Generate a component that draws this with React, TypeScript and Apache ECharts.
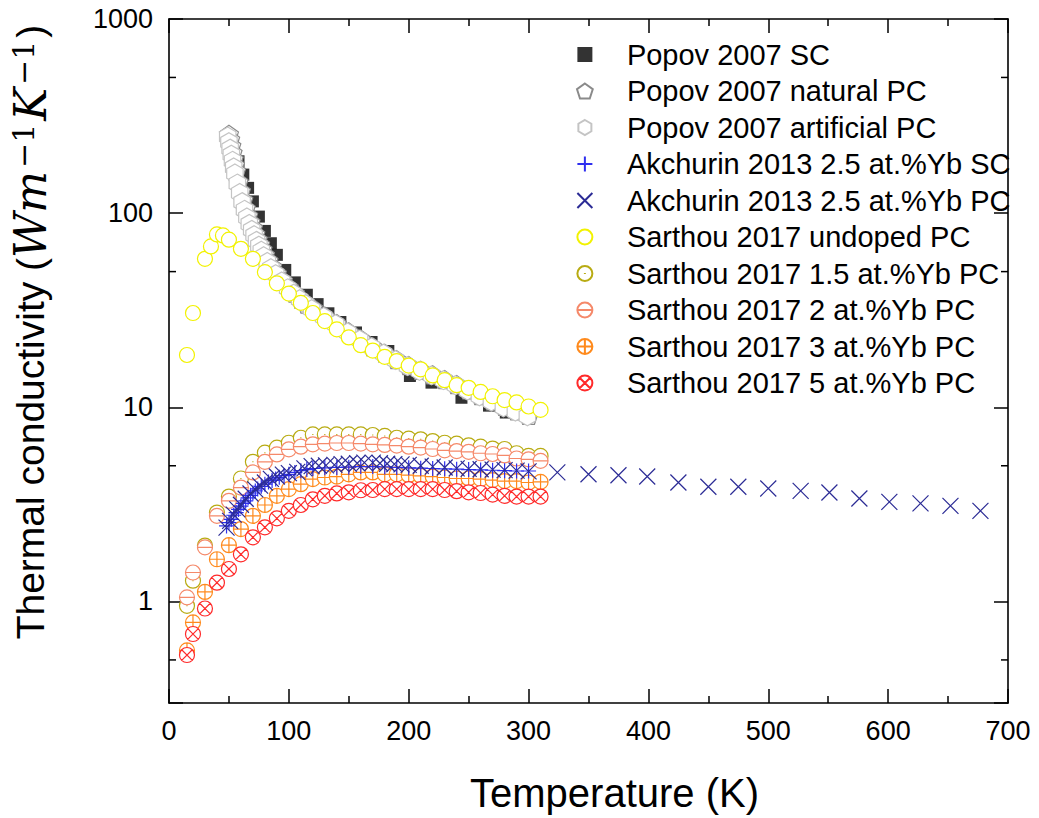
import React, { useEffect, useRef } from "react";
import * as echarts from "echarts";

// ---------- data ----------
const popovScT = [50, 54, 58, 62, 66, 70, 75, 80, 85, 90, 97, 105, 115, 124, 133, 143, 156, 169, 183, 201, 219, 244, 267, 281];
const popovScK = [250, 215, 185, 158, 135, 115, 96, 81, 70, 61, 51, 44, 38, 34, 30.5, 27.5, 24.3, 21.7, 19.5, 14.5, 13.4, 11.2, 10.2, 9.4];

const popovNatT = [50, 51, 52, 53, 54, 55, 56, 58, 60, 62, 64, 66, 68, 70, 72, 74, 76, 78, 80, 83, 86, 90, 95, 100, 105, 110, 115, 120, 130, 140, 150, 160, 170, 180, 190, 200, 210, 220, 230, 240, 250, 260, 270, 280, 290, 300];
const popovNatK = [255, 240, 222, 205, 190, 177, 165, 145, 130, 117, 106, 97, 90, 84, 78, 73, 69, 65, 61, 57, 53, 49, 45, 41.5, 38.8, 36, 34, 32.5, 29.5, 27, 24.5, 22.5, 20.5, 19, 17.6, 16.4, 15.5, 14.7, 13.9, 13.1, 12.3, 11.5, 10.8, 10.1, 9.6, 9.1];

const popovArtT = [49, 50, 51, 52, 53, 54, 55, 57, 59, 61, 63, 65, 67, 69, 71, 73, 75, 77, 79, 82, 85, 89, 94, 99, 104, 109, 114, 119, 129, 139, 149, 159, 169, 179, 189, 199, 209, 219, 229, 239, 249, 259, 269, 279, 289, 299];
const popovArtK = [248, 232, 215, 200, 186, 172, 160, 142, 127, 114, 104, 95, 88, 82, 77, 72, 68, 64, 60, 56, 52, 48.5, 44.5, 41, 38.5, 36, 34, 32, 29.2, 26.8, 24.3, 22.3, 20.4, 18.9, 17.5, 16.3, 15.4, 14.6, 13.8, 13, 12.2, 11.4, 10.7, 10, 9.5, 9.0];

const akScT = [48, 50, 52, 54, 56, 58, 60, 62, 64, 66, 68, 70, 72, 74, 77, 80, 83, 86, 89, 92, 96, 100, 105, 110, 115, 120, 130, 140, 150, 160, 170, 180, 190, 200, 210, 220, 230, 240, 250, 260, 270, 280, 290, 300];
const akScK = [2.45, 2.55, 2.65, 2.78, 2.87, 2.98, 3.1, 3.2, 3.3, 3.42, 3.52, 3.62, 3.71, 3.8, 3.92, 4.02, 4.12, 4.2, 4.28, 4.36, 4.45, 4.52, 4.62, 4.72, 4.78, 4.84, 4.88, 4.9, 4.92, 4.95, 4.95, 4.93, 4.9, 4.88, 4.86, 4.84, 4.82, 4.8, 4.78, 4.76, 4.74, 4.72, 4.7, 4.7];

const akPcT = [48, 51, 54, 57, 60, 64, 68, 72, 76, 80, 85, 90, 95, 100, 107, 113, 119, 125, 131, 138, 144, 150, 157, 163, 170, 176, 182, 188, 194, 200, 210, 220, 230, 240, 250, 260, 270, 280, 290, 300, 324, 350, 375, 399, 425, 450, 475, 500, 527, 551, 576, 601, 627, 652, 677];
const akPcK = [2.4, 2.6, 2.8, 2.98, 3.15, 3.38, 3.6, 3.78, 3.95, 4.1, 4.28, 4.4, 4.5, 4.58, 4.65, 4.85, 4.98, 5.0, 5.02, 5.05, 5.1, 5.12, 5.15, 5.19, 5.19, 5.15, 5.12, 5.1, 5.08, 5.05, 5.0, 4.95, 4.9, 4.85, 4.82, 4.8, 4.78, 4.75, 4.72, 4.68, 4.62, 4.52, 4.47, 4.40, 4.10, 3.90, 3.90, 3.82, 3.71, 3.64, 3.39, 3.26, 3.20, 3.11, 2.93];

const sarUndT = [15, 20, 30, 35, 40, 45, 50, 60, 70, 80, 90, 100, 110, 120, 130, 140, 150, 160, 170, 180, 190, 200, 210, 220, 230, 240, 250, 260, 270, 280, 290, 300, 310];
const sarUndK = [18.6, 30.6, 58.2, 67.4, 77.7, 76.8, 73.0, 65.5, 58.2, 49.7, 43.5, 38.5, 34.5, 30.6, 27.8, 25.2, 22.9, 20.9, 19.6, 18.2, 17.3, 16.4, 15.7, 14.6, 13.8, 13.0, 12.6, 12.0, 11.4, 10.9, 10.6, 10.1, 9.7];

const sarDopedT = [15, 20, 30, 40, 50, 60, 70, 80, 90, 100, 110, 120, 130, 140, 150, 160, 170, 180, 190, 200, 210, 220, 230, 240, 250, 260, 270, 280, 290, 300, 310];
const sar15K = [0.95, 1.28, 1.94, 2.87, 3.47, 4.30, 5.24, 5.84, 6.2, 6.57, 6.97, 7.25, 7.25, 7.25, 7.25, 7.25, 7.2, 7.12, 6.97, 6.9, 6.84, 6.7, 6.57, 6.5, 6.37, 6.27, 6.13, 6.1, 5.8, 5.62, 5.62];
const sar2K = [1.05, 1.41, 1.90, 2.76, 3.30, 3.86, 4.62, 5.24, 5.72, 6.08, 6.27, 6.45, 6.5, 6.55, 6.55, 6.5, 6.45, 6.4, 6.35, 6.27, 6.2, 6.1, 6.0, 5.95, 5.9, 5.8, 5.75, 5.65, 5.45, 5.4, 5.3];
const sar3K = [0.56, 0.78, 1.12, 1.65, 1.95, 2.36, 2.76, 3.14, 3.50, 3.79, 4.02, 4.27, 4.35, 4.40, 4.52, 4.62, 4.62, 4.52, 4.52, 4.47, 4.43, 4.40, 4.35, 4.30, 4.30, 4.27, 4.22, 4.17, 4.17, 4.10, 4.13];
const sar5K = [0.53, 0.68, 0.92, 1.25, 1.47, 1.75, 2.14, 2.41, 2.68, 2.93, 3.14, 3.36, 3.50, 3.60, 3.65, 3.74, 3.75, 3.79, 3.79, 3.79, 3.79, 3.79, 3.75, 3.70, 3.65, 3.62, 3.55, 3.50, 3.47, 3.47, 3.47];

const seriesNames = [
  "Popov 2007 SC",
  "Popov 2007 natural PC",
  "Popov 2007 artificial PC",
  "Akchurin 2013 2.5 at.%Yb SC",
  "Akchurin 2013 2.5 at.%Yb PC",
  "Sarthou 2017 undoped PC",
  "Sarthou 2017 1.5 at.%Yb PC",
  "Sarthou 2017 2 at.%Yb PC",
  "Sarthou 2017 3 at.%Yb PC",
  "Sarthou 2017 5 at.%Yb PC",
];

const xTicks = [0, 100, 200, 300, 400, 500, 600, 700];
const yTickLabels = [1, 10, 100, 1000];
const yMinorTicks = [0.5, 5, 50, 500];

// ---------- symbols ----------
const CIRCLE = "M10,0A10,10,0,1,1,10,20A10,10,0,1,1,10,0Z";
const SYM = {
  square: "path://M0,0L20,0L20,20L0,20Z",
  pentagon: "path://M10,0L19.51,6.91L15.88,18.09L4.12,18.09L0.49,6.91Z",
  hexagon: "path://M10,0L18.66,5L18.66,15L10,20L1.34,15L1.34,5Z",
  plus: "path://M10,0L10,20M0,10L20,10",
  cross: "path://M0,0L20,20M20,0L0,20",
  circle: "path://" + CIRCLE,
  circleDot: "path://" + CIRCLE + "M10,9.3L10,10.7",
  circleH: "path://" + CIRCLE + "M0,10L20,10",
  circlePlus: "path://" + CIRCLE + "M0,10L20,10M10,0L10,20",
  circleX: "path://" + CIRCLE + "M2.93,2.93L17.07,17.07M17.07,2.93L2.93,17.07",
};

const zip = (t: number[], k: number[]) => t.map((v, i) => [v, k[i]]);

const SANS = "'Liberation Sans', Arial, Helvetica, sans-serif";
const SERIF = "'DejaVu Serif', 'Liberation Serif', serif";

const W = 1039;
const H = 818;

export default function App() {
  const ref = useRef<HTMLDivElement>(null);
  useEffect(() => {
    if (!ref.current) return;
    document.body.style.margin = "0";
    document.body.style.overflow = "hidden";
    const chart = echarts.init(ref.current, undefined, { renderer: "svg", width: W, height: H });

    const marker = (
      name: string,
      data: number[][],
      symbol: string,
      color: string,
      size: number,
      fill: string,
      z = 2,
      lw = 1.2
    ) => ({
      name,
      type: "scatter",
      data,
      symbol,
      symbolSize: size,
      symbolKeepAspect: true,
      z,
      itemStyle: { color: fill, borderColor: color, borderWidth: lw, opacity: 1 },
      emphasis: { disabled: true },
      silent: true,
    });

    const axisLineStyle = { color: "#000", width: 1.6 };
    const tickStyle = { color: "#000", width: 1.5 };
    const NOFILL = "rgba(255,255,255,0)";

    const option: any = {
      animation: false,
      backgroundColor: "#fff",
      grid: { left: 163, right: 31, top: 19, bottom: 114, containLabel: false },
      legend: {
        data: seriesNames,
        orient: "vertical",
        left: 576,
        top: 40,
        padding: 0,
        itemGap: 7.5,
        itemWidth: 74,
        itemHeight: 15,
        selectedMode: false,
        symbolKeepAspect: true,
        textStyle: { fontFamily: SANS, fontSize: 29, lineHeight: 28, color: "#000" },
      },
      xAxis: [
        {
          type: "value",
          min: 0,
          max: 700,
          interval: 100,
          position: "bottom",
          axisLine: { show: true, onZero: false, lineStyle: axisLineStyle },
          axisTick: { show: true, inside: true, length: 14, lineStyle: tickStyle },
          minorTick: { show: true, splitNumber: 2, length: 7, lineStyle: tickStyle },
          splitLine: { show: false },
          axisLabel: {
            fontFamily: SANS,
            fontSize: 27,
            color: "#000",
            margin: 14,
            formatter: (v: number) => (xTicks.includes(v) ? String(v) : ""),
          },
          name: "Temperature (K)",
          nameLocation: "middle",
          nameGap: 70,
          nameTextStyle: { fontFamily: SANS, fontSize: 40, color: "#000", padding: [0, 0, 0, 52] },
        },
        {
          type: "value",
          min: 0,
          max: 700,
          interval: 100,
          position: "top",
          axisLine: { show: true, onZero: false, lineStyle: axisLineStyle },
          axisTick: { show: true, inside: true, length: 14, lineStyle: tickStyle },
          minorTick: { show: true, splitNumber: 2, length: 7, lineStyle: tickStyle },
          splitLine: { show: false },
          axisLabel: { show: false },
        },
      ],
      yAxis: [
        {
          type: "log",
          logBase: 10,
          min: 0.3,
          max: 1000,
          position: "left",
          axisLine: { show: true, onZero: false, lineStyle: axisLineStyle },
          axisTick: { show: true, inside: true, length: 14, lineStyle: tickStyle },
          splitLine: { show: false },
          axisLabel: {
            fontFamily: SANS,
            fontSize: 27,
            color: "#000",
            margin: 16,
            formatter: (v: number) => {
              const hit = yTickLabels.find((t) => Math.abs(t - v) / t < 1e-6);
              return hit !== undefined ? String(hit) : "";
            },
          },
          name: "{a|Thermal conductivity (}{m|Wm}{s|−1}{m|K}{s|−1}{a|)}",
          nameLocation: "middle",
          nameGap: 117,
          nameTextStyle: {
            padding: [0, 0, 0, 58],
            rich: {
              a: { fontFamily: SANS, fontSize: 39, color: "#000" },
              m: { fontFamily: SERIF, fontStyle: "italic", fontSize: 44, color: "#000" },
              s: { fontFamily: SERIF, fontSize: 30, color: "#000", verticalAlign: "top", padding: [0, 3, 0, 3] },
            },
          },
        },
        {
          type: "log",
          logBase: 10,
          min: 0.3,
          max: 1000,
          position: "right",
          axisLine: { show: true, onZero: false, lineStyle: axisLineStyle },
          axisTick: { show: true, inside: true, length: 14, lineStyle: tickStyle },
          splitLine: { show: false },
          axisLabel: { show: false },
        },
      ],
      series: [
        {
          name: seriesNames[0],
          type: "scatter",
          data: zip(popovScT, popovScK),
          symbol: SYM.square,
          symbolSize: 12,
          symbolKeepAspect: true,
          z: 2,
          itemStyle: { color: "#000" },
          emphasis: { disabled: true },
          silent: true,
        },
        marker(seriesNames[1], zip(popovNatT, popovNatK), SYM.pentagon, "#8a8a8a", 19, "#fff"),
        marker(seriesNames[2], zip(popovArtT, popovArtK), SYM.hexagon, "#c4c4c4", 19, "#fff"),
        marker(seriesNames[3], zip(akScT, akScK), SYM.plus, "#2f2fef", 15, NOFILL, 4),
        marker(seriesNames[4], zip(akPcT, akPcK), SYM.cross, "#2b2b95", 16, NOFILL, 4),
        marker(seriesNames[5], zip(sarUndT, sarUndK), SYM.circle, "#f2f200", 15, "#fff"),
        marker(seriesNames[6], zip(sarDopedT, sar15K), SYM.circleDot, "#b8ab12", 15, "#fff"),
        marker(seriesNames[7], zip(sarDopedT, sar2K), SYM.circleH, "#f5896a", 15, "#fff"),
        marker(seriesNames[8], zip(sarDopedT, sar3K), SYM.circlePlus, "#ff8a1c", 15, "#fff"),
        marker(seriesNames[9], zip(sarDopedT, sar5K), SYM.circleX, "#ff2a2a", 15, "#fff"),
        {
          type: "custom",
          name: "minorTicks",
          xAxisIndex: 0,
          yAxisIndex: 0,
          silent: true,
          z: 10,
          data: yMinorTicks.map((v) => [0, v]),
          renderItem: (params: any, api: any) => {
            const p = api.coord([0, api.value(1)]);
            const cs = params.coordSys;
            const st = { stroke: "#000", lineWidth: 1.5 };
            return {
              type: "group",
              children: [
                { type: "line", shape: { x1: cs.x, y1: p[1], x2: cs.x + 7, y2: p[1] }, style: st },
                { type: "line", shape: { x1: cs.x + cs.width, y1: p[1], x2: cs.x + cs.width - 7, y2: p[1] }, style: st },
              ],
            };
          },
        },
      ],
    };
    chart.setOption(option);
    return () => chart.dispose();
  }, []);
  return <div ref={ref} style={{ width: W, height: H, background: "#fff" }} />;
}
